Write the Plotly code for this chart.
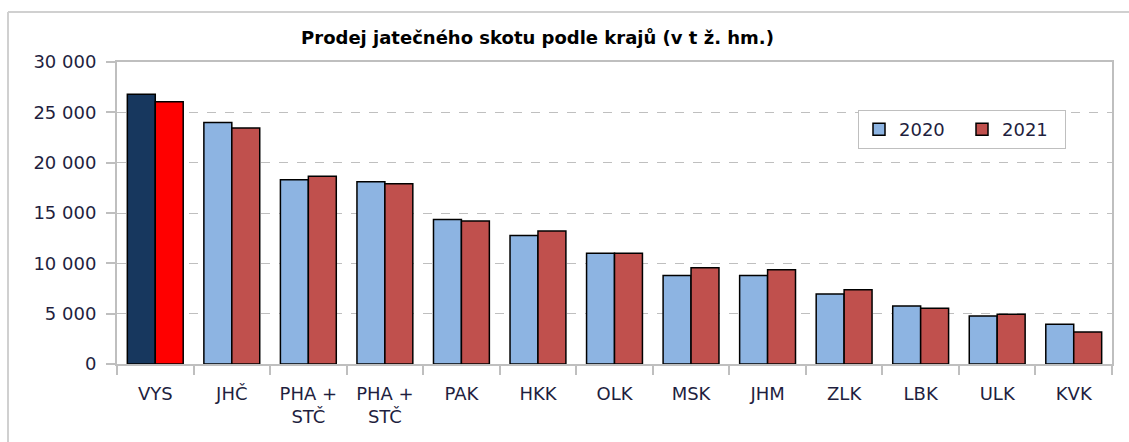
import plotly.graph_objects as go

categories = ["VYS", "JHČ", "PHA +<br>STČ", "PHA +<br>STČ", "PAK", "HKK", "OLK",
              "MSK", "JHM", "ZLK", "LBK", "ULK", "KVK"]
values_2020 = [26800, 24000, 18300, 18100, 14350, 12760, 11000, 8780, 8780, 6950, 5750, 4780, 3950]
values_2021 = [26050, 23450, 18650, 17900, 14200, 13200, 11000, 9560, 9360, 7380, 5550, 4950, 3180]
series_names = ["2020", "2021"]
tick_values_y = [0, 5000, 10000, 15000, 20000, 25000, 30000]
tick_labels_y = ["0", "5 000", "10 000", "15 000", "20 000", "25 000", "30 000"]

C2020 = "#8DB4E2"
C2021 = "#C0504D"
C2020_HI = "#17375E"
C2021_HI = "#FF0000"
FONT = "DejaVu Sans, sans-serif"
TXT = "#1F1F3F"
GRID = "#BFBFBF"

W, H = 1129, 442
PL, PR, PT, PB = 117, 1112, 62, 364
PW, PH = PR - PL, PB - PT

x = list(range(len(categories)))
col20 = [C2020_HI if i == 0 else C2020 for i in x]
col21 = [C2021_HI if i == 0 else C2021 for i in x]

fig = go.Figure()
fig.add_trace(go.Bar(x=x, y=values_2020, name=series_names[0], showlegend=False,
                     marker=dict(color=col20, line=dict(color="#000000", width=1.5))))
fig.add_trace(go.Bar(x=x, y=values_2021, name=series_names[1], showlegend=False,
                     marker=dict(color=col21, line=dict(color="#000000", width=1.5))))
# legend entries
for nm, c in zip(series_names, [C2020, C2021]):
    fig.add_trace(go.Scatter(x=[None], y=[None], mode="markers", name=nm,
                             marker=dict(symbol="square", size=12, color=c,
                                         line=dict(color="#000000", width=1.5))))

fig.update_layout(
    width=W, height=H,
    margin=dict(l=PL, r=W - PR, t=PT, b=H - PB, autoexpand=False),
    paper_bgcolor="white", plot_bgcolor="white",
    barmode="group", bargap=0.27, bargroupgap=0,
    font=dict(family=FONT, size=18, color=TXT),
    title=dict(text="<b>Prodej jatečného skotu podle krajů (v t ž. hm.)</b>",
               font=dict(family=FONT, size=18, color="#000000"),
               x=(537.5 - PL) / PW, xref="paper", xanchor="center",
               y=1 - 38 / H, yref="container", yanchor="middle"),
    legend=dict(orientation="h", x=(858 - PL) / PW, y=(PB - 110) / PH,
                xanchor="left", yanchor="top",
                bgcolor="white", bordercolor=GRID, borderwidth=1,
                font=dict(family=FONT, size=18, color=TXT),
                entrywidth=58, entrywidthmode="pixels"),
    showlegend=True,
)
fig.update_xaxes(range=[-0.5, len(categories) - 0.5], tickmode="array", tickvals=x,
                 ticktext=categories, ticks="", showgrid=False, ticklabelstandoff=12,
                 showline=True, linecolor=GRID, linewidth=2, mirror=True,
                 minor=dict(ticks="outside", ticklen=9, tickcolor=GRID, tickwidth=2,
                            tick0=-0.5, dtick=1, showgrid=False),
                 tickfont=dict(family=FONT, size=18, color=TXT),
                 zeroline=False)
fig.update_yaxes(range=[0, 30000], tickmode="array", tickvals=tick_values_y,
                 ticktext=tick_labels_y, ticks="outside", ticklen=9, tickcolor=GRID,
                 tickwidth=2, showgrid=True, gridcolor=GRID, griddash="dash", gridwidth=1,
                 showline=True, linecolor=GRID, linewidth=2, mirror=True, ticklabelstandoff=6,
                 zeroline=False, tickfont=dict(family=FONT, size=18, color=TXT))

# outer chart frame: only top and left edges are visible in the picture
fx0 = (8 - PL) / PW
fx1 = (W - PL) / PW
fy_top = (PB - 12) / PH
fy_bot = (PB - H) / PH
frame = dict(color="#D0D0D0", width=2)
fig.add_shape(type="line", xref="paper", yref="paper", x0=fx0, x1=fx1, y0=fy_top, y1=fy_top,
              line=frame, layer="below")
fig.add_shape(type="line", xref="paper", yref="paper", x0=fx0, x1=fx0, y0=fy_top, y1=fy_bot,
              line=frame, layer="below")

fig.write_html("out.html", config={"displayModeBar": False},
               post_script="document.body.style.margin='0';document.body.style.overflow='hidden';")
